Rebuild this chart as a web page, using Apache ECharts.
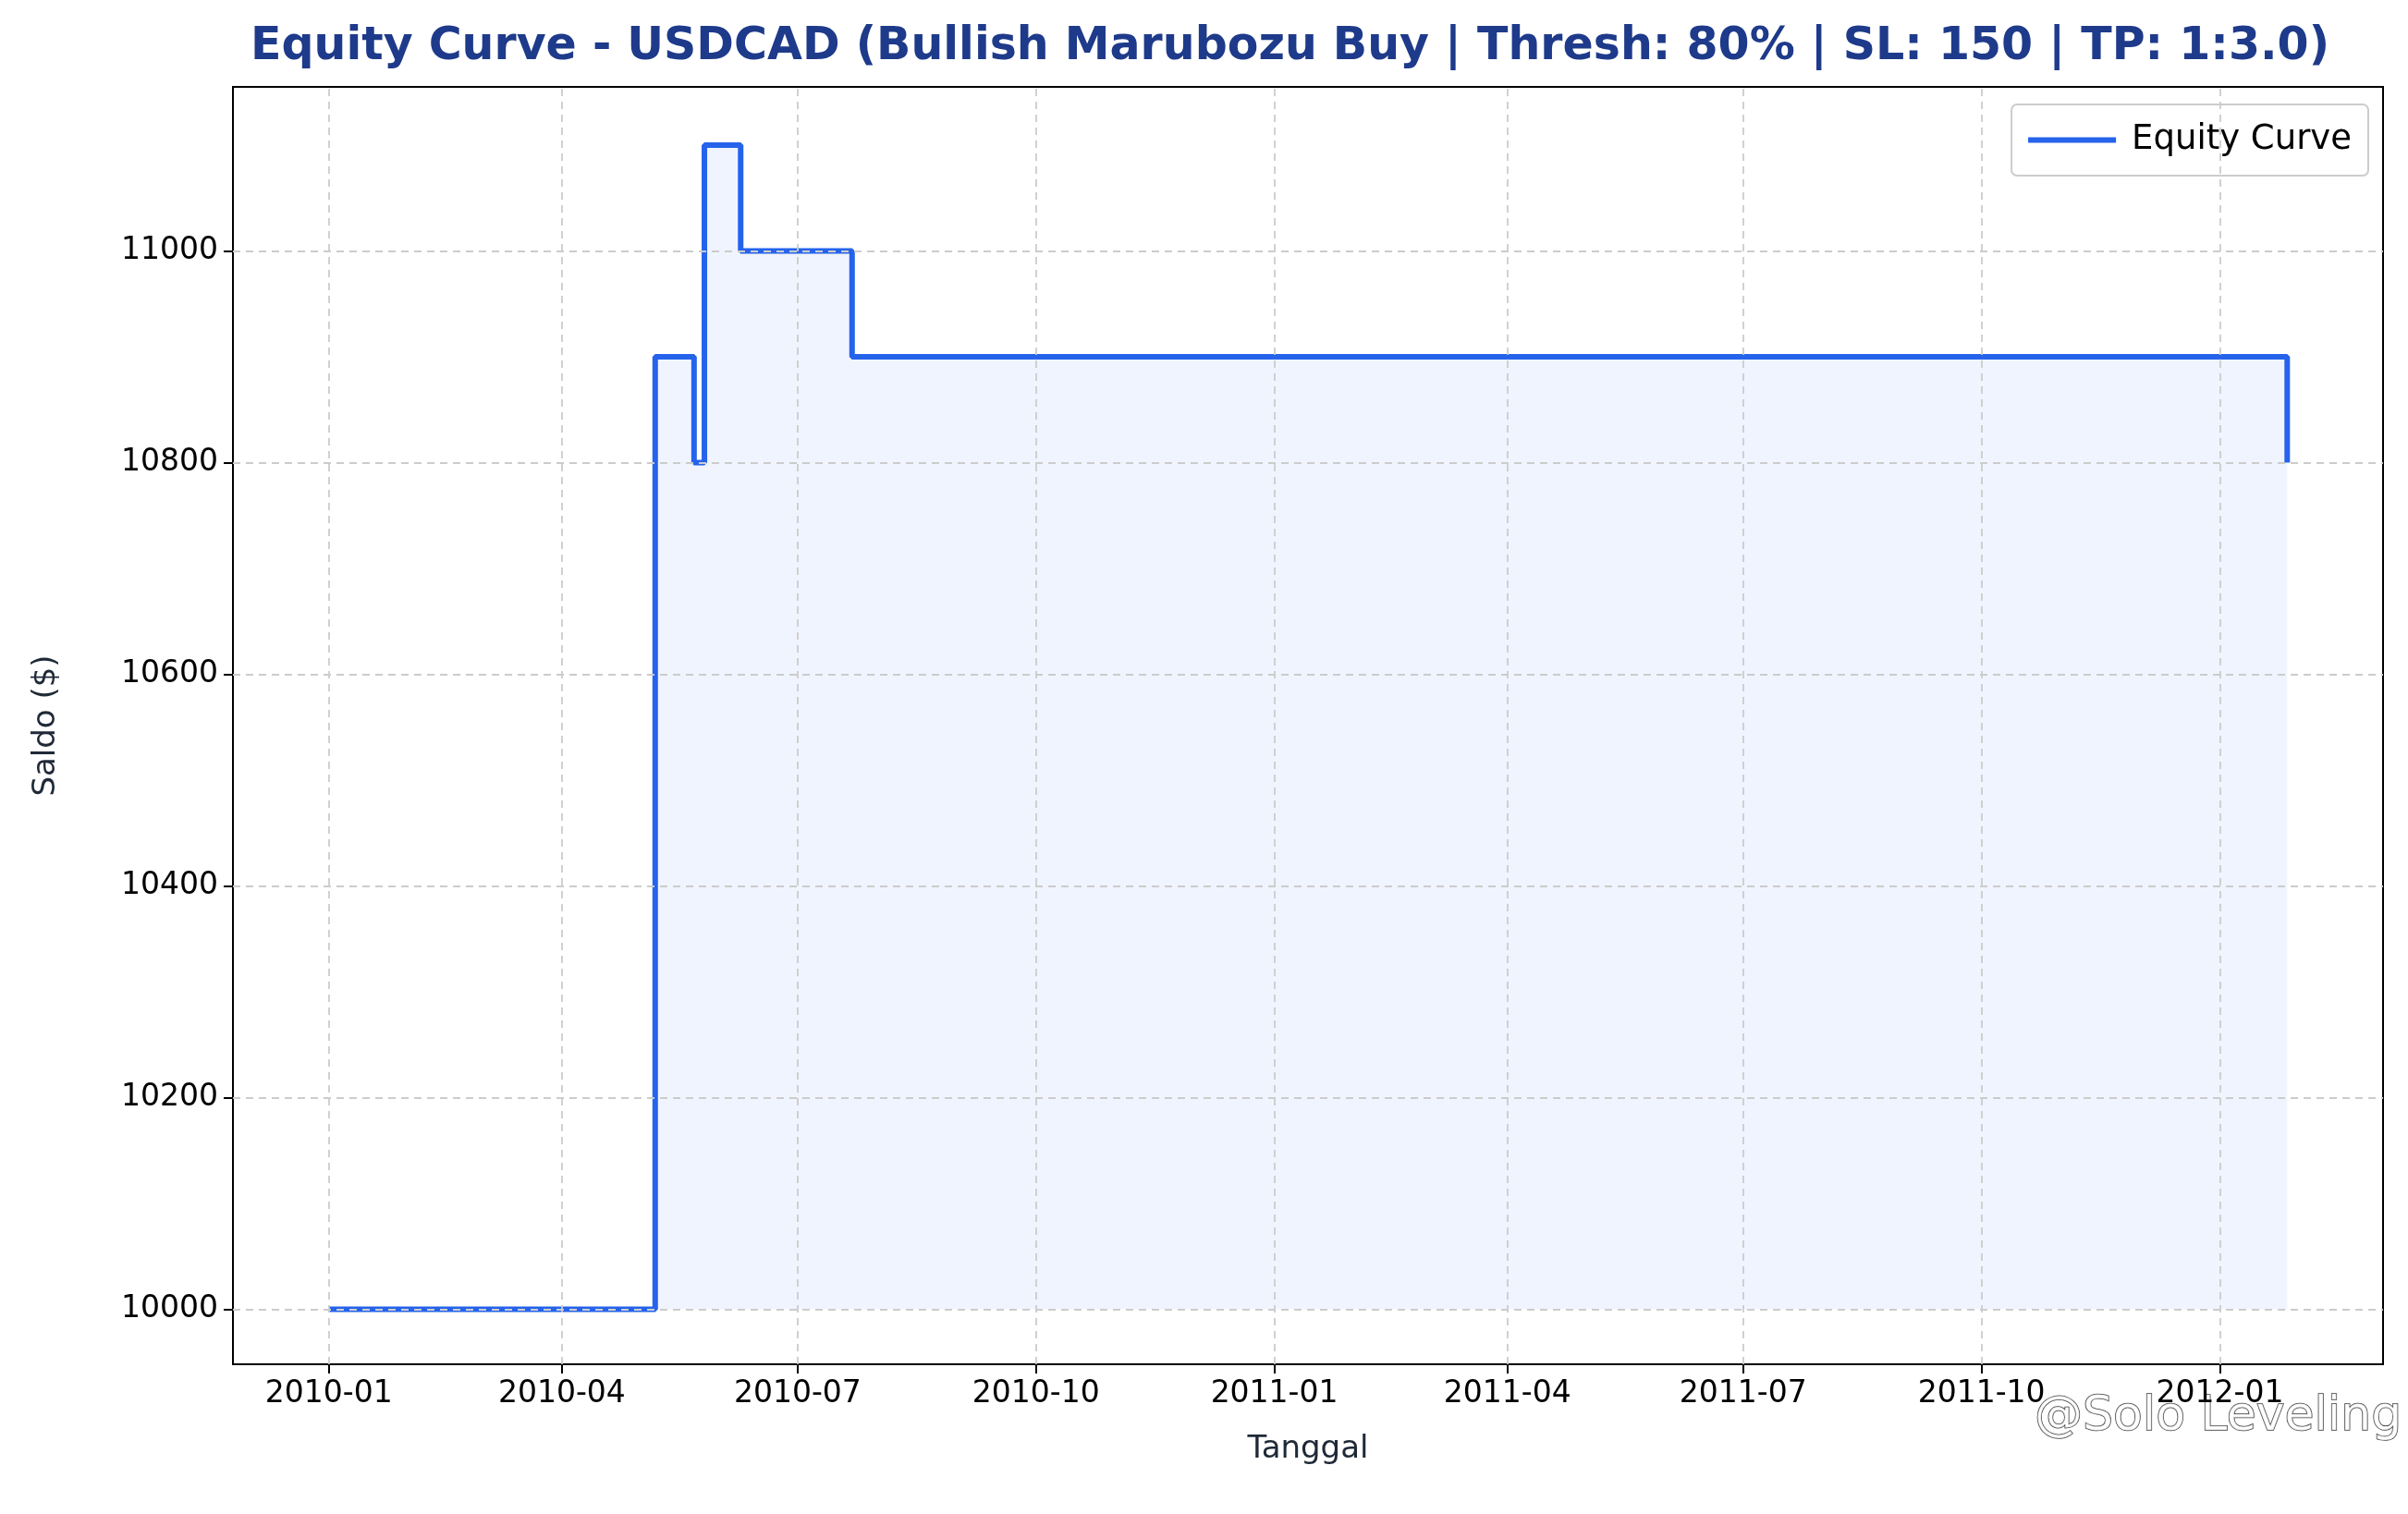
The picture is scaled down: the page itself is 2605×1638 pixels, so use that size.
<!DOCTYPE html>
<html>
<head>
<meta charset="utf-8">
<script src="https://cdn.jsdelivr.net/npm/echarts@6/dist/echarts.min.js"></script>
<style>html,body{margin:0;padding:0;background:#fff}#chart{width:2605px;height:1638px}</style>
</head>
<body>
<div id="chart"></div>
<script>
// equity steps: date where balance changes, new balance
var dates = ['2010-01-01', '2010-05-07', '2010-05-22', '2010-05-26', '2010-06-09', '2010-07-22', '2012-01-27', '2012-01-27']
var balances = [10000, 10900, 10800, 11100, 11000, 10900, 10900, 10800]
var tickDates = ['2010-01-01', '2010-04-01', '2010-07-01', '2010-10-01', '2011-01-01', '2011-04-01', '2011-07-01', '2011-10-01', '2012-01-01']
var yTicks = [10000, 10200, 10400, 10600, 10800, 11000]

var font = 'DejaVu Sans'
var ts = function (d) { return new Date(d + 'T00:00:00Z').getTime() }
var points = dates.map(function (d, i) { return [ts(d), balances[i]] })
var ticks = tickDates.map(ts)

var chart = echarts.init(document.getElementById('chart'))
chart.setOption({
  animation: false,
  title: {
    text: 'Equity Curve - USDCAD (Bullish Marubozu Buy | Thresh: 80% | SL: 150 | TP: 1:3.0)',
    left: 266,
    top: 22,
    textStyle: { fontFamily: font, fontSize: 49, fontWeight: 'bold', color: '#1e3a8a' }
  },
  legend: {
    right: 43,
    top: 113,
    orient: 'vertical',
    itemWidth: 95,
    itemHeight: 6,
    itemGap: 14,
    icon: 'rect',
    padding: [20, 18],
    borderColor: '#cccccc',
    borderWidth: 2,
    borderRadius: 6,
    textStyle: { fontFamily: font, fontSize: 37, color: '#000', padding: [0, 0, 0, 12] },
    data: ['Equity Curve']
  },
  grid: { left: 252, right: 27, top: 94, bottom: 162 },
  xAxis: {
    type: 'value',
    min: ts('2009-11-25'),
    max: ts('2012-03-04'),
    name: 'Tanggal',
    nameLocation: 'middle',
    nameGap: 75,
    nameTextStyle: { fontFamily: font, fontSize: 34, color: '#1f2937' },
    axisLine: { onZero: false, lineStyle: { color: '#000', width: 2 } },
    axisTick: { show: true, customValues: ticks, length: 10, lineStyle: { color: '#000', width: 2 } },
    axisLabel: {
      customValues: ticks,
      fontFamily: font, fontSize: 33, color: '#000', margin: 16,
      formatter: function (v) {
        var d = new Date(v)
        var m = d.getUTCMonth() + 1
        return d.getUTCFullYear() + '-' + (m < 10 ? '0' + m : m)
      }
    },
    splitLine: { show: false }
  },
  yAxis: {
    type: 'value',
    min: 9948,
    max: 11155,
    name: 'Saldo ($)',
    nameLocation: 'middle',
    nameGap: 185,
    nameTextStyle: { fontFamily: font, fontSize: 34, color: '#1f2937' },
    axisLine: { show: true, lineStyle: { color: '#000', width: 2 } },
    axisTick: { show: true, customValues: yTicks, length: 10, lineStyle: { color: '#000', width: 2 } },
    axisLabel: {
      customValues: yTicks,
      fontFamily: font, fontSize: 33, color: '#000', margin: 16,
      formatter: function (v) { return String(v) }
    },
    splitLine: { show: false }
  },
  series: [{
    name: 'grid',
    type: 'line',
    data: [],
    z: 1,
    markLine: {
      silent: true,
      symbol: 'none',
      label: { show: false },
      lineStyle: { type: [8, 6], color: '#cccccc', width: 1.8 },
      data: ticks.map(function (t) { return { xAxis: t } }).concat(
        yTicks.map(function (v) { return { yAxis: v } }))
    }
  }, {
    name: 'Equity Curve',
    type: 'line',
    step: 'end',
    showSymbol: false,
    z: 3,
    data: points,
    color: '#2563eb',
    lineStyle: { width: 6, color: '#2563eb' },
    areaStyle: { origin: 10000, color: 'rgba(37,99,235,0.1)' }
  }],
  graphic: [{
    type: 'rect',
    shape: { x: 252, y: 94, width: 2605 - 252 - 27, height: 1638 - 94 - 162 },
    style: { fill: 'none', stroke: '#000', lineWidth: 2 },
    silent: true
  }, {
    type: 'text',
    right: 6,
    bottom: 78,
    style: { text: '@Solo Leveling', fontFamily: font, fontSize: 52, fill: 'rgba(255,255,255,0.85)', stroke: '#444', lineWidth: 1.5 }
  }]
})
</script>
</body>
</html>
